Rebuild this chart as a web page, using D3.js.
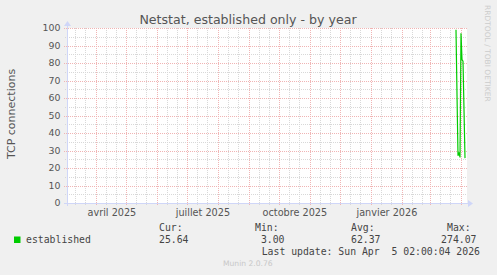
<!DOCTYPE html>
<html>
<head>
<meta charset="utf-8">
<script src="https://cdn.jsdelivr.net/npm/d3@7"></script>
<style>
  html, body { margin: 0; padding: 0; background: #f0f0f0; }
  svg { display: block; }
</style>
</head>
<body>
<svg id="chart" width="497" height="275"></svg>
<script>
// Netstat yearly graph (munin / rrdtool look)
const title = "Netstat, established only - by year";
const yLabel = "TCP connections";
const yTicks = [0, 10, 20, 30, 40, 50, 60, 70, 80, 90, 100];
const yMinorTicks = [5, 15, 25, 35, 45, 55, 65, 75, 85, 95];
const xLabelMonths = ["2025-04-01", "2025-07-01", "2025-10-01", "2026-01-01"];
const xLabels = ["avril 2025", "juillet 2025", "octobre 2025", "janvier 2026"];

// daily samples (only the last days have data)
const sampleDates = ["2026-03-27T02:00", "2026-03-28T02:00", "2026-03-29T02:00", "2026-03-30T02:00",
  "2026-03-31T02:00", "2026-04-01T02:00", "2026-04-02T02:00", "2026-04-03T02:00", "2026-04-05T02:00"];
const established = [99, 62, 27, 29, 26, 97, 82, 81, 25.64];

const legendHeaders = ["Cur:", "Min:", "Avg:", "Max:"];
const legendValues = ["25.64", "3.00", "62.37", "274.07"];
const lastUpdate = "Last update: Sun Apr  5 02:00:04 2026";

const parse = s => new Date(s + "Z");
const green = "#00cc00";
const axisColor = "#cfd6f8";
const majorColor = "#f0b4b4";
const minorColor = "#d8d8d8";

const svg = d3.select("#chart");
const plotLeft = 67, plotRight = 467, plotTop = 28, plotBottom = 203;

const x = d3.scaleUtc()
    .domain([parse("2025-03-03T02:00"), parse("2026-04-07T02:00")])
    .range([plotLeft, plotRight]);
const y = d3.scaleLinear().domain([0, 100]).range([plotBottom, plotTop]);

// canvas
svg.append("rect")
    .attr("x", plotLeft).attr("y", plotTop)
    .attr("width", plotRight - plotLeft).attr("height", plotBottom - plotTop)
    .attr("fill", "#fff");

// title
svg.append("text")
    .attr("x", 248).attr("y", 23.5)
    .attr("text-anchor", "middle")
    .attr("font-family", "DejaVu Sans")
    .attr("font-size", 12.6)
    .attr("fill", "#555")
    .text(title);

// vertical grid: months (major) and every 10 days (minor)
const months = d3.utcMonth.range(x.domain()[0], x.domain()[1]);
const minorDays = [];
d3.utcMonth.range(d3.utcMonth.floor(x.domain()[0]), x.domain()[1]).forEach(m => {
    minorDays.push(d3.utcDay.offset(m, 10), d3.utcDay.offset(m, 20));
});

const grid = svg.append("g").attr("shape-rendering", "crispEdges");

grid.selectAll(".vminor")
    .data(minorDays.filter(d => x(d) > plotLeft && x(d) < plotRight))
    .enter().append("line")
    .attr("x1", d => Math.round(x(d)) + 0.5).attr("x2", d => Math.round(x(d)) + 0.5)
    .attr("y1", plotTop).attr("y2", plotBottom + 2)
    .attr("stroke", minorColor)
    .attr("stroke-dasharray", "1,1");

grid.selectAll(".hminor")
    .data(yMinorTicks)
    .enter().append("line")
    .attr("x1", plotLeft - 2).attr("x2", plotRight)
    .attr("y1", d => Math.round(y(d)) + 0.5).attr("y2", d => Math.round(y(d)) + 0.5)
    .attr("stroke", minorColor)
    .attr("stroke-dasharray", "1,1");

grid.selectAll(".vmajor")
    .data(months)
    .enter().append("line")
    .attr("x1", d => Math.round(x(d)) + 0.5).attr("x2", d => Math.round(x(d)) + 0.5)
    .attr("y1", plotTop).attr("y2", plotBottom + 3)
    .attr("stroke", majorColor)
    .attr("stroke-dasharray", "1,1");

grid.selectAll(".hmajor")
    .data(yTicks.filter(d => d > 0))
    .enter().append("line")
    .attr("x1", plotLeft - 3).attr("x2", plotRight)
    .attr("y1", d => Math.round(y(d)) + 0.5).attr("y2", d => Math.round(y(d)) + 0.5)
    .attr("stroke", majorColor)
    .attr("stroke-dasharray", "1,1");

// axes
svg.append("line")
    .attr("x1", plotLeft - 3).attr("x2", plotRight + 1)
    .attr("y1", plotBottom + 0.5).attr("y2", plotBottom + 0.5)
    .attr("stroke", axisColor);
svg.append("line")
    .attr("x1", plotLeft + 0.5).attr("x2", plotLeft + 0.5)
    .attr("y1", plotBottom + 3).attr("y2", plotTop - 2)
    .attr("stroke", axisColor);
svg.append("path")
    .attr("d", `M${plotRight + 1},${plotBottom - 3}L${plotRight + 6},${plotBottom + 0.5}L${plotRight + 1},${plotBottom + 4}Z`)
    .attr("fill", axisColor);
svg.append("path")
    .attr("d", `M${plotLeft - 3},${plotTop - 2}L${plotLeft + 0.5},${plotTop - 7}L${plotLeft + 4},${plotTop - 2}Z`)
    .attr("fill", axisColor);

// y tick labels
svg.append("g").selectAll("text")
    .data(yTicks)
    .enter().append("text")
    .attr("x", 60.5)
    .attr("y", d => y(d) + 3.4)
    .attr("text-anchor", "end")
    .attr("font-family", "DejaVu Sans")
    .attr("font-size", 9.4)
    .attr("fill", "#555")
    .text(d => d);

// x labels (placed mid-month like rrdtool)
svg.append("g").selectAll("text")
    .data(xLabelMonths)
    .enter().append("text")
    .attr("x", d => x(d3.utcDay.offset(parse(d + "T00:00"), 16)))
    .attr("y", 215.5)
    .attr("text-anchor", "middle")
    .attr("font-family", "DejaVu Sans")
    .attr("font-size", 9.7)
    .attr("fill", "#555")
    .text((d, i) => xLabels[i]);

// y axis title
svg.append("text")
    .attr("transform", "translate(15.3,114) rotate(-90)")
    .attr("text-anchor", "middle")
    .attr("font-family", "DejaVu Sans")
    .attr("font-size", 11)
    .attr("fill", "#555")
    .text(yLabel);

// data line
const points = sampleDates.map((d, i) => ({ date: parse(d), value: established[i] }));
svg.append("defs").append("clipPath").attr("id", "plotclip")
    .append("rect").attr("x", plotLeft).attr("y", plotTop)
    .attr("width", plotRight - plotLeft).attr("height", plotBottom - plotTop);
svg.append("path")
    .datum(points)
    .attr("clip-path", "url(#plotclip)")
    .attr("fill", "none")
    .attr("stroke", green)
    .attr("stroke-width", 1.2)
    .attr("d", d3.line().x(d => x(d.date)).y(d => y(d.value)));

// legend
const mono = "DejaVu Sans Mono";
svg.append("rect")
    .attr("x", 14).attr("y", 236.5)
    .attr("width", 6.5).attr("height", 6.5)
    .attr("fill", green);
svg.append("text")
    .attr("x", 26).attr("y", 243)
    .attr("font-family", mono).attr("font-size", 9.8).attr("fill", "#444")
    .text("established");

const colX = [159, 255, 351, 447];
svg.append("g").selectAll("text")
    .data(legendHeaders)
    .enter().append("text")
    .attr("x", (d, i) => colX[i]).attr("y", 230.7)
    .attr("font-family", mono).attr("font-size", 9.8).attr("fill", "#444")
    .text(d => d);
svg.append("g").selectAll("text")
    .data(legendValues)
    .enter().append("text")
    .attr("x", (d, i) => colX[i] + 29.5).attr("y", 243)
    .attr("text-anchor", "end")
    .attr("font-family", mono).attr("font-size", 9.8).attr("fill", "#444")
    .text(d => d);
svg.append("text")
    .attr("x", 261.7).attr("y", 255)
    .attr("xml:space", "preserve")
    .attr("font-family", mono).attr("font-size", 9.8).attr("fill", "#444")
    .style("white-space", "pre")
    .text(lastUpdate);

// watermarks
svg.append("text")
    .attr("x", 223).attr("y", 266)
    .attr("font-family", "DejaVu Sans").attr("font-size", 7.6)
    .attr("fill", "#c8c8c8")
    .text("Munin 2.0.76");
svg.append("text")
    .attr("transform", "translate(485,5) rotate(90)")
    .attr("font-family", "DejaVu Sans").attr("font-size", 7.5)
    .attr("fill", "#cccccc")
    .text("RRDTOOL / TOBI OETIKER");
</script>
</body>
</html>
